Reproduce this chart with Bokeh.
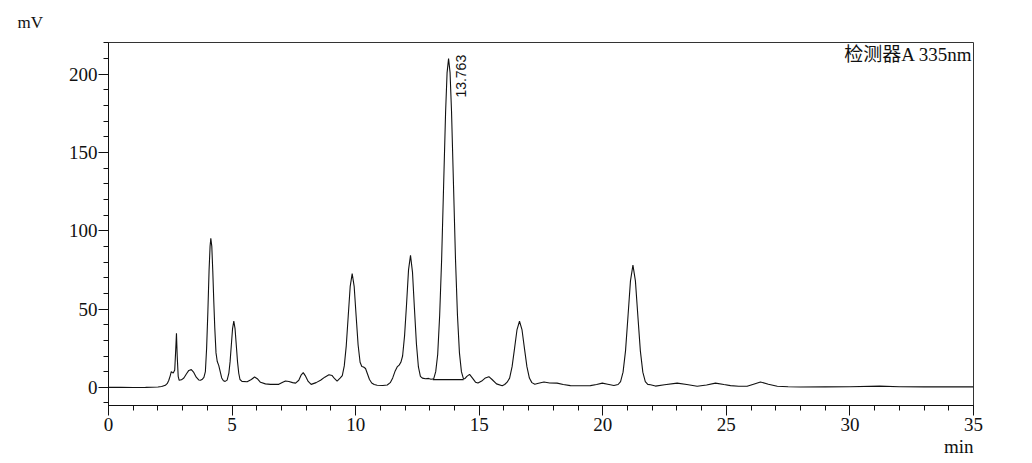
import math
from bokeh.plotting import figure
from bokeh.models import Label, Range1d, SingleIntervalTicker, Title
from bokeh.embed import file_html
from bokeh.resources import INLINE

# ---- data ----
time_min = [
    0.0, 0.5, 1.0, 1.5, 2.0, 2.15, 2.3, 2.38, 2.44, 2.50, 2.54, 2.58, 2.62, 2.68, 2.72, 2.75, 2.78, 2.82, 2.86,
    2.95, 3.05, 3.15, 3.25, 3.35, 3.45, 3.55, 3.65, 3.72, 3.80, 3.86, 3.92, 3.97, 4.02, 4.07, 4.11, 4.14, 4.18,
    4.22, 4.26, 4.30, 4.35, 4.40, 4.46, 4.52, 4.58, 4.65, 4.72, 4.80, 4.87, 4.92, 4.97, 5.02, 5.07, 5.12, 5.17,
    5.22, 5.27, 5.32, 5.40, 5.61, 5.78, 5.91, 6.02, 6.15, 6.35, 6.55, 6.89, 7.05, 7.16, 7.30, 7.45, 7.57, 7.70,
    7.80, 7.88, 7.96, 8.08, 8.20, 8.40, 8.58, 8.75, 8.92, 9.05, 9.15, 9.25, 9.38, 9.46, 9.54, 9.62, 9.70, 9.78,
    9.86, 9.94, 10.02, 10.10, 10.18, 10.25, 10.32, 10.40, 10.48, 10.56, 10.65, 10.75, 10.87, 11.10, 11.28, 11.40,
    11.50, 11.60, 11.68, 11.76, 11.83, 11.90, 11.98, 12.06, 12.14, 12.22, 12.30, 12.38, 12.46, 12.54, 12.62,
    12.70, 12.83, 12.95, 13.05, 13.16, 13.24, 13.32, 13.40, 13.48, 13.56, 13.64, 13.70, 13.76, 13.82, 13.88,
    13.96, 14.04, 14.12, 14.20, 14.28, 14.36, 14.42, 14.50, 14.61, 14.72, 14.85, 14.95, 15.10, 15.25, 15.39,
    15.52, 15.70, 15.93, 16.03, 16.13, 16.23, 16.33, 16.43, 16.53, 16.63, 16.73, 16.83, 16.93, 17.03, 17.13,
    17.25, 17.40, 17.62, 17.85, 18.15, 18.40, 18.69, 19.10, 19.50, 19.75, 19.98, 20.20, 20.45, 20.62, 20.72,
    20.82, 20.92, 21.02, 21.12, 21.22, 21.32, 21.42, 21.52, 21.62, 21.72, 21.82, 21.93, 22.13, 22.50, 23.01,
    23.40, 23.82, 24.20, 24.56, 24.90, 25.17, 25.50, 25.84, 26.10, 26.38, 26.70, 27.06, 27.50, 28.0, 29.0,
    30.0, 31.2, 32.0, 33.0, 34.0, 35.0,
]
signal_mv = [
    0.0, 0.0, -0.1, 0.0, 0.2, 0.5, 1.3, 2.5, 4.5, 7.5, 10.0, 9.5, 9.2, 11.0, 24.0, 34.5, 20.0, 7.0, 4.5,
    4.8, 6.0, 8.5, 10.8, 11.3, 9.5, 6.5, 4.7, 4.5, 5.2, 6.3, 10.0, 25.0, 48.0, 75.0, 90.0, 95.2, 90.0,
    74.0, 55.0, 38.0, 22.0, 16.5, 14.0, 10.0, 6.0, 4.2, 3.8, 4.6, 9.0, 16.4, 27.0, 37.5, 42.3, 37.5, 27.0,
    16.4, 9.0, 5.0, 3.8, 3.6, 5.0, 6.6, 5.5, 3.2, 2.2, 1.9, 1.9, 3.2, 4.0, 3.7, 3.0, 2.7, 4.5,
    8.0, 9.4, 7.5, 3.8, 1.9, 3.0, 4.5, 6.5, 8.0, 7.5, 5.5, 4.0, 6.0, 7.5, 13.7, 26.5, 45.5, 64.5,
    72.6, 64.5, 45.5, 27.0, 16.0, 13.3, 13.0, 12.0, 8.5, 5.0, 2.8, 1.8, 1.3, 1.2, 1.5, 3.0,
    6.0, 10.5, 13.0, 14.2, 16.0, 20.0, 33.0, 53.0, 75.0, 84.3, 73.6, 50.0, 27.7, 13.0, 7.0,
    5.9, 5.5, 5.7, 5.2, 5.5, 10.0, 21.0, 46.0, 82.0, 129.0, 176.0, 201.0, 209.9, 201.0, 176.0,
    129.0, 82.0, 46.0, 22.0, 10.0, 5.5, 5.5, 7.0, 8.3, 6.0, 3.3, 2.7, 4.0, 6.0, 6.8,
    5.0, 2.2, 1.0, 1.8, 3.3, 5.9, 13.2, 24.9, 36.9, 42.2, 36.9, 24.9, 13.2, 5.9, 3.0,
    2.0, 2.6, 3.4, 2.8, 2.7, 1.8, 1.1, 1.0, 1.1, 1.8, 2.7, 2.0, 1.2, 1.8, 3.7,
    9.7, 23.3, 45.4, 68.0, 78.0, 68.0, 45.4, 23.3, 9.7, 3.7, 1.9, 1.6, 0.8, 1.6, 2.7,
    1.8, 0.7, 1.5, 2.7, 1.8, 1.1, 0.7, 0.7, 2.0, 3.4, 2.0, 0.7, 0.4, 0.2, 0.3,
    0.4, 0.8, 0.4, 0.3, 0.4, 0.3,
]
# integration baseline of the labelled peak
baseline_t = [13.12, 14.37]
baseline_mv = [4.9, 4.9]
peak_rt = 13.763
peak_label = "13.763"
detector_label = "检测器A 335nm"
x_unit = "min"
y_unit = "mV"

SERIF = "'Liberation Serif', 'DejaVu Serif', serif"
MIXED = "'Liberation Serif', 'Noto Sans CJK SC', serif"

p = figure(width=1024, height=460, x_range=Range1d(0, 35), y_range=Range1d(-11.6, 220.2),
           output_backend="svg", toolbar_location=None,
           min_border_left=108, min_border_right=51, min_border_top=42, min_border_bottom=55)
p.grid.visible = False
p.outline_line_color = "#333333"
p.outline_line_width = 1
p.background_fill_color = "white"
p.border_fill_color = "white"

p.xaxis.ticker = SingleIntervalTicker(interval=5, num_minor_ticks=5)
p.yaxis.ticker = SingleIntervalTicker(interval=50, num_minor_ticks=5)
for ax in (p.xaxis, p.yaxis):
    ax.major_tick_in = 0
    ax.major_tick_out = 10
    ax.minor_tick_in = 0
    ax.minor_tick_out = 5
    ax.axis_line_color = "#111111"
    ax.major_tick_line_color = "#111111"
    ax.minor_tick_line_color = "#111111"
    ax.major_label_text_font = SERIF
    ax.major_label_text_font_size = "19px"
    ax.major_label_text_color = "#111111"
p.xaxis.major_label_standoff = 2
p.yaxis.major_label_standoff = 1

p.line(time_min, signal_mv, line_color="#111111", line_width=1.1)
p.line(baseline_t, baseline_mv, line_color="#111111", line_width=1.1)

p.add_layout(Label(x=peak_rt + 0.52, y=185, text=peak_label, angle=math.pi / 2,
                   text_align="left", text_baseline="middle",
                   text_font="'Liberation Sans', sans-serif", text_font_size="14px",
                   text_color="#111111"))
p.add_layout(Label(x=35, y=219.5, text=detector_label, text_align="right", text_baseline="top",
                   x_offset=-1, text_font=MIXED, text_font_size="19px", text_color="#111111"))

p.add_layout(Title(text=y_unit, align="left", offset=-91, standoff=18, vertical_align="top",
                   text_font=SERIF, text_font_size="17px", text_font_style="normal",
                   text_color="#111111"), "above")
p.add_layout(Title(text=x_unit, align="right", standoff=0,
                   text_font=SERIF, text_font_size="19px", text_font_style="normal",
                   text_color="#111111"), "below")

open("out.html", "w").write(file_html(p, INLINE))
